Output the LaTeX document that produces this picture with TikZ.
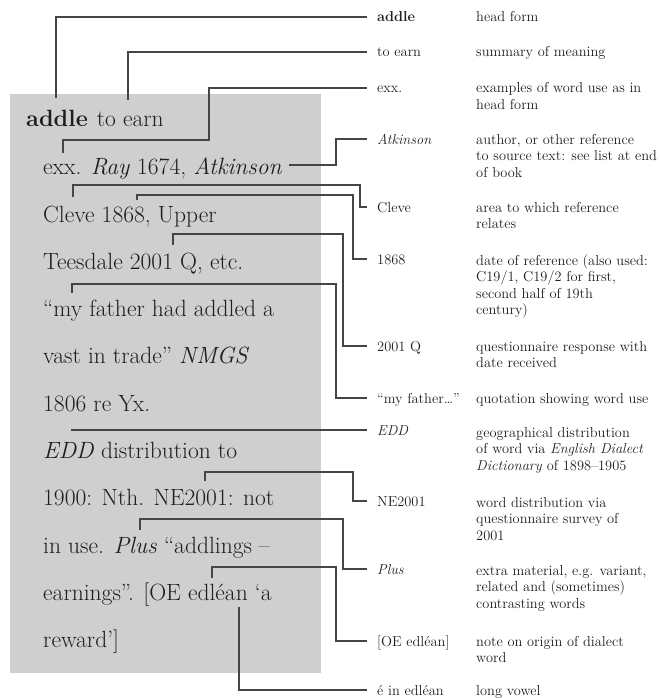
\documentclass[tikz,border=0pt]{standalone}
\usepackage{xcolor}
\usepackage{tikz}
\usetikzlibrary{positioning, calc}
\definecolor{boxgray}{HTML}{CFCFCF}
\definecolor{leadgray}{HTML}{454545}
\definecolor{inkdark}{HTML}{1E1E1E}
\newcommand{\entryfont}{\fontsize{23.5}{28}\selectfont}
\newcommand{\notefont}{\fontsize{14.4}{16.5}\selectfont}
\newcommand{\glosslines}[1]{\begin{tabular}[t]{@{}l@{}}#1\end{tabular}}
\tikzstyle{entryline} = [anchor=base west, inner sep=0pt, text=inkdark, font=\entryfont]
\tikzstyle{keyterm} = [anchor=base west, inner sep=0pt, text height=10pt, text depth=0pt, text=inkdark, font=\notefont]
\tikzstyle{gloss} = [anchor=base west, inner sep=0pt, text=inkdark, font=\notefont]
\tikzstyle{leader} = [line width=1.3pt, color=leadgray, shorten >=10pt]

\begin{document}
\begin{tikzpicture}[x=1pt, y=-1pt]
    \useasboundingbox (0,0) rectangle (660,698);
    \fill[boxgray] (10,94) rectangle (321,673);

    % the dictionary entry
    \node[entryline] (ln1) at (26,127) {\textbf{addle}\hspace{9pt}to earn};
    \node[entryline] (ln2) at (43,174) {exx. \textit{Ray} 1674, \textit{Atkinson}};
    \node[entryline] (ln3) at (43,222) {Cleve 1868, Upper};
    \node[entryline] (ln4) at (43,269) {Teesdale 2001 Q, etc.};
    \node[entryline] (ln5) at (43,316) {“my father had addled a};
    \node[entryline] (ln6) at (43,363) {vast in trade” \textit{NMGS}};
    \node[entryline] (ln7) at (43,411) {1806 re Yx.};
    \node[entryline] (ln8) at (43,458) {\textit{EDD} distribution to};
    \node[entryline] (ln9) at (43,505) {1900: Nth. NE2001: not};
    \node[entryline] (ln10) at (43,553) {in use. \textit{Plus} “addlings –};
    \node[entryline] (ln11) at (43,600) {earnings”. [OE edléan ‘a};
    \node[entryline] (ln12) at (43,647) {reward’]};

    % key terms
    \node[keyterm] (kAddle) at (377,22) {\textbf{addle}};
    \node[keyterm] (kEarn) at (377,57) {to earn};
    \node[keyterm] (kExx) at (377,93) {exx.};
    \node[keyterm] (kAtk) at (377,144) {\textit{Atkinson}};
    \node[keyterm] (kCleve) at (377,212) {Cleve};
    \node[keyterm] (kYear) at (377,264) {1868};
    \node[keyterm] (kQuest) at (377,351) {2001 Q};
    \node[keyterm] (kQuote) at (377,403) {“my father\dots”};
    \node[keyterm] (kEdd) at (377,435) {\textit{EDD}};
    \node[keyterm] (kNe) at (377,506) {NE2001};
    \node[keyterm] (kPlus) at (377,574) {\textit{Plus}};
    \node[keyterm] (kOe) at (377,646) {[OE edléan]};
    \node[keyterm] (kAcute) at (377,695) {é in edléan};

    % glosses
    \node[gloss] (gAddle) at (476,22) {head form};
    \node[gloss] (gEarn) at (476,57) {summary of meaning};
    \node[gloss] (gExx) at (476,93) {\glosslines{examples of word use as in\\head form}};
    \node[gloss] (gAtk) at (476,144) {\glosslines{author, or other reference\\to source text: see list at end\\of book}};
    \node[gloss] (gCleve) at (476,212) {\glosslines{area to which reference\\relates}};
    \node[gloss] (gYear) at (476,265) {\glosslines{date of reference (also used:\\C19/1, C19/2 for first,\\second half of 19th\\century)}};
    \node[gloss] (gQuest) at (476,351) {\glosslines{questionnaire response with\\date received}};
    \node[gloss] (gQuote) at (476,403) {quotation showing word use};
    \node[gloss] (gEdd) at (476,437) {\glosslines{geographical distribution\\of word via \textit{English Dialect}\\\textit{Dictionary} of 1898–1905}};
    \node[gloss] (gNe) at (476,507) {\glosslines{word distribution via\\questionnaire survey of\\2001}};
    \node[gloss] (gPlus) at (476,575) {\glosslines{extra material, e.g. variant,\\related and (sometimes)\\contrasting words}};
    \node[gloss] (gOe) at (476,646) {\glosslines{note on origin of dialect\\word}};
    \node[gloss] (gAcute) at (476,695) {long vowel};

    % anchor points in the entry
    \coordinate (hwTop) at (56,98);
    \coordinate (mnTop) at (128,100);
    \coordinate (exTop) at (63,153);
    \coordinate (atEnd) at ($(ln2.base east)+(7,-9)$);
    \coordinate (clTop) at (73,197);
    \coordinate (yrTop) at (137,200);
    \coordinate (qTop) at (173,245);
    \coordinate (fqTop) at (72,293);
    \coordinate (edStart) at (71,430);
    \coordinate (neTop) at (205,481);
    \coordinate (plTop) at (140,530);
    \coordinate (oeTop) at (212,578);
    \coordinate (acBot) at (239,607);
    % channels
    \coordinate (chanA) at (336,0);
    \coordinate (chanB) at (343,0);
    \coordinate (chanC) at (353,0);
    \coordinate (chanD) at (360,0);

    \draw[leader] (hwTop) |- (kAddle.west);
    \draw[leader] (mnTop) |- (kEarn.west);
    \draw[leader] (exTop) |- (209,140) |- (kExx.west);
    \draw[leader] (atEnd) -- (atEnd -| chanA) |- (kAtk.west);
    \draw[leader] (clTop) |- (chanD |- 0,185) |- (kCleve.west);
    \draw[leader] (yrTop) |- (chanC |- 0,195) |- (kYear.west);
    \draw[leader] (qTop) |- (chanB |- 0,234) |- (kQuest.west);
    \draw[leader] (fqTop) |- (chanA |- 0,284) |- (kQuote.west);
    \draw[leader] (edStart) -- (kEdd.west);
    \draw[leader] (neTop) |- (chanC |- 0,472) |- (kNe.west);
    \draw[leader] (plTop) |- (chanB |- 0,519) |- (kPlus.west);
    \draw[leader] (oeTop) |- (chanA |- 0,567) |- (kOe.west);
    \draw[leader] (acBot) |- (kAcute.west);
\end{tikzpicture}
\end{document}
